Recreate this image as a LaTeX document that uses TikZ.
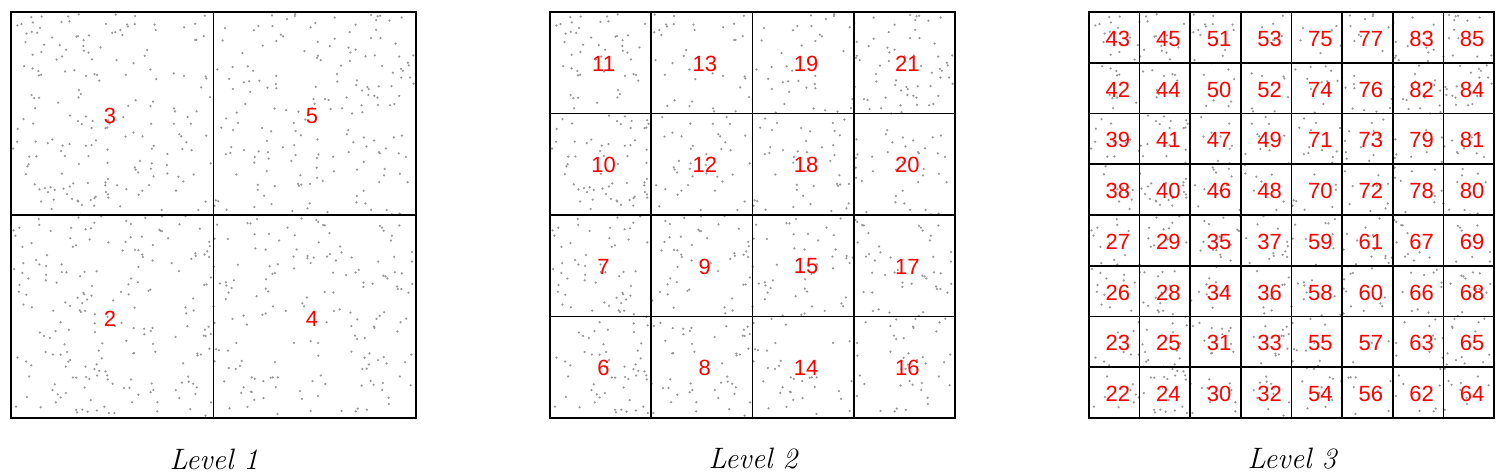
\documentclass[tikz,border=0pt]{standalone}
\usepackage{fontspec}
\newfontfamily\numfont{Liberation Sans}
\definecolor{dotc}{gray}{0.6}
\definecolor{numred}{rgb}{1,0,0}
\tikzset{
  gridline/.style={draw=black, line width=1.6pt},
  dotmark/.style={fill=dotc},
  numlabel/.style={text=numred, font=\numfont\fontsize{22}{22}\selectfont, inner sep=0pt},
  levellabel/.style={font=\fontsize{29.5}{29.5}\selectfont\itshape, inner sep=0pt},
}
\begin{document}
\begin{tikzpicture}[x=1pt,y=-1pt]
\useasboundingbox (0,0) rectangle (1510,475);
% random points
\foreach \ox in {11,550,1089}{
  \pgfmathsetseed{4242}
  \foreach \i in {1,...,750}{
    \pgfmathsetmacro\px{\ox+2+401*rnd}
    \pgfmathsetmacro\py{14+402*rnd}
    \fill[dotmark] (\px,\py) circle (1.25);
  }
}
% Level 1 grid
\draw[gridline] (11,12) rectangle (416,418);
\draw[gridline] (213.5,12) -- (213.5,418);
\draw[gridline] (11,215) -- (416,215);
% Level 2 grid
\draw[gridline] (550,12) rectangle (955,418);
\foreach \k in {1,2,3}{
  \draw[gridline] ({550+101.25*\k},12) -- ({550+101.25*\k},418);
  \draw[gridline] (550,{12+101.5*\k}) -- (955,{12+101.5*\k});
}
% Level 3 grid
\draw[gridline] (1089,12) rectangle (1494,418);
\foreach \k in {1,...,7}{
  \draw[gridline] ({1089+50.625*\k},12) -- ({1089+50.625*\k},418);
  \draw[gridline] (1089,{12+50.75*\k}) -- (1494,{12+50.75*\k});
}
% Level 1 labels
\node[numlabel] (l1-3) at (110,116) {3};
\node[numlabel] (l1-5) at (312,116) {5};
\node[numlabel] (l1-2) at (110,319) {2};
\node[numlabel] (l1-4) at (312,319) {4};
% Level 2 labels
\foreach \row/\labs in {0/{11,13,19,21},1/{10,12,18,20},2/{7,9,15,17},3/{6,8,14,16}}{
  \foreach \lab [count=\c from 0] in \labs{
    \node[numlabel] (l2-\lab) at ({550+50.6+101.25*\c+3},{12+51.5+101.5*\row}) {\lab};
  }
}
% Level 3 labels
\foreach \row/\labs in {0/{43,45,51,53,75,77,83,85},1/{42,44,50,52,74,76,82,84},2/{39,41,47,49,71,73,79,81},3/{38,40,46,48,70,72,78,80},4/{27,29,35,37,59,61,67,69},5/{26,28,34,36,58,60,66,68},6/{23,25,31,33,55,57,63,65},7/{22,24,30,32,54,56,62,64}}{
  \foreach \lab [count=\c from 0] in \labs{
    \node[numlabel] (l3-\lab) at ({1089+25.3+50.625*\c+3.5},{12+25.4+50.75*\row+1.5}) {\lab};
  }
}
% Level captions
\node[levellabel] (cap1) at (214,459) {Level 1};
\node[levellabel] (cap2) at (753,459) {Level 2};
\node[levellabel] (cap3) at (1292,459) {Level 3};
\end{tikzpicture}
\end{document}
